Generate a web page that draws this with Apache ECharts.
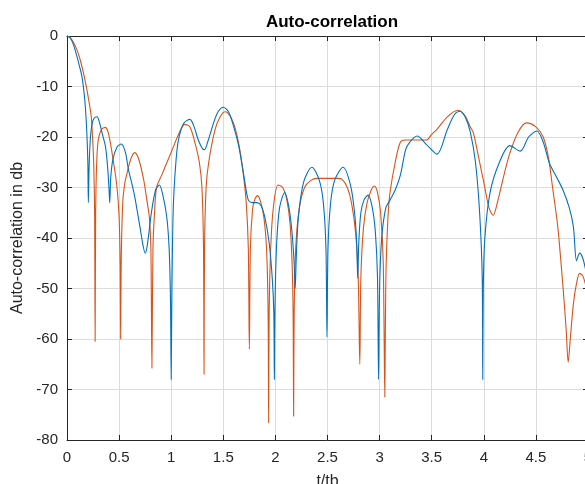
<!DOCTYPE html>
<html>
<head>
<meta charset="utf-8">
<script src="https://cdn.jsdelivr.net/npm/echarts@6/dist/echarts.min.js"></script>
<style>
  html, body { margin: 0; padding: 0; background: #fff; }
  #chart { width: 585px; height: 484px; }
</style>
</head>
<body>
<div id="chart"></div>
<script>
// Axis ticks
const xTicks = [0, 0.5, 1, 1.5, 2, 2.5, 3, 3.5, 4, 4.5, 5];
const yTicks = [-80, -70, -60, -50, -40, -30, -20, -10, 0];

// First auto-correlation curve (blue): t/tb and level in dB
const blueT = [0, 0.03, 0.06, 0.096, 0.12, 0.144, 0.165, 0.176, 0.19, 0.2, 0.205, 0.212, 0.225, 0.24, 0.26, 0.288, 0.31, 0.34, 0.37, 0.39, 0.405, 0.41, 0.42, 0.44, 0.48, 0.52, 0.56, 0.59, 0.62, 0.65, 0.7, 0.73, 0.75, 0.77, 0.81, 0.85, 0.886, 0.92, 0.957, 0.98, 0.993, 1.0, 1.007, 1.02, 1.045, 1.07, 1.12, 1.18, 1.22, 1.26, 1.3, 1.32, 1.35, 1.41, 1.45, 1.5, 1.55, 1.6, 1.65, 1.7, 1.74, 1.78, 1.82, 1.86, 1.9, 1.94, 1.97, 1.985, 1.99, 1.995, 2.01, 2.04, 2.09, 2.13, 2.16, 2.18, 2.19, 2.2, 2.22, 2.27, 2.35, 2.42, 2.46, 2.485, 2.495, 2.505, 2.53, 2.57, 2.65, 2.72, 2.76, 2.78, 2.79, 2.8, 2.82, 2.85, 2.89, 2.93, 2.96, 2.98, 2.99, 3.0, 3.02, 3.06, 3.1, 3.15, 3.2, 3.25, 3.29, 3.36, 3.45, 3.55, 3.65, 3.72, 3.77, 3.82, 3.87, 3.92, 3.96, 3.985, 3.99, 3.995, 4.01, 4.06, 4.15, 4.25, 4.35, 4.43, 4.51, 4.57, 4.63, 4.7, 4.76, 4.82, 4.86, 4.89, 4.92, 4.95, 4.98, 5.0];
const blueDb = [0, -0.4, -1.6, -4.1, -6, -8.1, -11.5, -14, -19, -25, -33, -26, -20, -17.5, -16.3, -16, -17, -19.5, -22, -26, -31, -33, -28, -24.5, -22, -21.4, -23, -26.5, -29, -31.8, -37.8, -41.5, -43, -41.5, -35, -30.5, -29.5, -31.5, -35.8, -42, -52, -68, -50, -34, -25, -20.5, -17.3, -16.5, -18, -20.6, -22.3, -22.5, -21, -17, -15, -14.1, -15, -18, -22, -28, -32.5, -33, -33, -33.5, -36, -41, -48, -55, -68, -55, -42, -34, -31, -34, -39, -45, -50, -44, -36, -29, -26, -28.5, -33, -42, -59.6, -42, -33, -28.5, -26, -29.5, -35, -41, -48, -41, -35, -32.5, -31.5, -34, -39, -48, -68, -50, -40, -34, -32.5, -30.5, -27.5, -22.5, -21, -19.8, -21.5, -23.4, -18.5, -15.5, -14.9, -16, -19, -25, -35, -48, -68, -50, -40, -31, -25, -21.7, -22.8, -20, -18.8, -21, -25.2, -28, -30.5, -34, -37.8, -44.5, -43, -44, -46.5, -48];

// Second auto-correlation curve (orange): t/tb and level in dB
const orangeT = [0, 0.03, 0.06, 0.1, 0.128, 0.16, 0.19, 0.215, 0.233, 0.245, 0.256, 0.265, 0.27, 0.275, 0.285, 0.3, 0.33, 0.368, 0.4, 0.448, 0.48, 0.5, 0.51, 0.515, 0.52, 0.535, 0.556, 0.576, 0.61, 0.65, 0.69, 0.736, 0.77, 0.79, 0.805, 0.815, 0.825, 0.84, 0.86, 0.91, 0.96, 1.02, 1.07, 1.13, 1.18, 1.23, 1.27, 1.295, 1.31, 1.315, 1.32, 1.335, 1.36, 1.42, 1.47, 1.52, 1.57, 1.61, 1.65, 1.69, 1.72, 1.74, 1.75, 1.76, 1.78, 1.8, 1.83, 1.86, 1.89, 1.915, 1.93, 1.935, 1.94, 1.955, 1.98, 2.025, 2.07, 2.11, 2.14, 2.16, 2.17, 2.175, 2.18, 2.195, 2.23, 2.28, 2.34, 2.4, 2.5, 2.6, 2.64, 2.69, 2.73, 2.77, 2.795, 2.81, 2.82, 2.845, 2.88, 2.92, 2.95, 2.98, 3.01, 3.035, 3.05, 3.06, 3.08, 3.1, 3.15, 3.2, 3.25, 3.35, 3.45, 3.5, 3.55, 3.65, 3.75, 3.82, 3.87, 3.9, 3.95, 4.0, 4.05, 4.09, 4.13, 4.2, 4.25, 4.33, 4.41, 4.5, 4.57, 4.62, 4.66, 4.71, 4.76, 4.79, 4.81, 4.83, 4.86, 4.89, 4.92, 4.95, 4.98, 5.0];
const orangeDb = [0, -0.3, -1.2, -3, -4.8, -7.5, -10.5, -13.5, -16, -20, -25, -35, -60.5, -35, -25, -20.6, -18.5, -18.1, -19.5, -25.2, -30, -35.8, -45, -60, -45, -33, -29, -27.2, -24.5, -23.1, -24.5, -28.5, -33, -35.8, -42, -65.8, -42, -35, -30, -27.5, -25, -22, -19.5, -17.5, -18, -21.3, -25, -30, -42, -67, -42, -30, -25, -18.6, -16, -15, -16, -18, -21.5, -27, -33, -42, -62, -42, -34.5, -32.5, -31.6, -33, -36, -42, -55, -76.6, -55, -42, -34, -29.5, -30, -32.5, -37, -45, -55, -75.3, -55, -42, -34, -30, -28.6, -28.2, -28.2, -28.2, -28.4, -30, -33, -39, -48, -65, -48, -38, -33, -30.5, -29.7, -31, -35, -45, -71.5, -48, -36, -31, -25, -21, -20.6, -20.6, -20.6, -19.5, -18.5, -16, -14.7, -15.8, -18, -19.2, -24, -29, -34, -35.5, -33, -27, -23.2, -19, -17.2, -18, -20, -24, -30, -37.8, -49.7, -58, -64.6, -60, -53, -49, -47, -47.5, -49.5, -51];

const pairs = (xs, ys) => xs.map((x, i) => [x, ys[i]]);

const FONT = '"Liberation Sans", Arial, Helvetica, sans-serif';
const AXIS_COLOR = '#262626';
const GRID_COLOR = '#dcdcdc';

const chart = echarts.init(document.getElementById('chart'), null, { renderer: 'canvas' });

const baseX = {
  type: 'value',
  min: xTicks[0],
  max: xTicks[xTicks.length - 1],
  interval: 0.5,
  axisLine: { show: true, onZero: false, lineStyle: { color: AXIS_COLOR, width: 1 } },
  axisTick: { show: true, inside: true, length: 5, lineStyle: { color: AXIS_COLOR } },
  splitLine: { show: false },
  axisLabel: { show: false }
};
const baseY = {
  type: 'value',
  min: yTicks[0],
  max: yTicks[yTicks.length - 1],
  interval: 10,
  axisLine: { show: true, onZero: false, lineStyle: { color: AXIS_COLOR, width: 1 } },
  axisTick: { show: true, inside: true, length: 5, lineStyle: { color: AXIS_COLOR } },
  splitLine: { show: false },
  axisLabel: { show: false }
};

chart.setOption({
  animation: false,
  backgroundColor: '#ffffff',
  title: {
    text: 'Auto-correlation',
    left: 327,
    textAlign: 'center',
    top: 9,
    textStyle: { fontFamily: FONT, fontSize: 17, fontWeight: 'bold', color: '#000' }
  },
  grid: { left: 67, top: 36, width: 521, height: 404, containLabel: false, outerBoundsMode: 'none' },
  xAxis: [
    Object.assign({}, baseX, {
      position: 'bottom',
      name: 't/tb',
      nameLocation: 'middle',
      nameGap: 34,
      nameTextStyle: { fontFamily: FONT, fontSize: 16, color: AXIS_COLOR },
      splitLine: { show: true, lineStyle: { color: GRID_COLOR, width: 1 } },
      axisLabel: { show: true, margin: 10, fontFamily: FONT, fontSize: 15, color: AXIS_COLOR }
    }),
    Object.assign({}, baseX, { position: 'top' })
  ],
  yAxis: [
    Object.assign({}, baseY, {
      position: 'left',
      name: 'Auto-correlation in db',
      nameLocation: 'middle',
      nameGap: 32,
      nameTextStyle: { fontFamily: FONT, fontSize: 16, color: AXIS_COLOR },
      splitLine: { show: true, lineStyle: { color: GRID_COLOR, width: 1 } },
      axisLabel: { show: true, margin: 9, fontFamily: FONT, fontSize: 15, color: AXIS_COLOR }
    }),
    Object.assign({}, baseY, { position: 'right' })
  ],
  series: [
    {
      name: 'blue',
      type: 'line',
      data: pairs(blueT, blueDb),
      showSymbol: false,
      smooth: 0.3,
      lineStyle: { color: '#0072BD', width: 1.1 },
      z: 3
    },
    {
      name: 'orange',
      type: 'line',
      data: pairs(orangeT, orangeDb),
      showSymbol: false,
      smooth: 0.3,
      lineStyle: { color: '#D95319', width: 1.1 },
      z: 2
    }
  ]
});
</script>
</body>
</html>
